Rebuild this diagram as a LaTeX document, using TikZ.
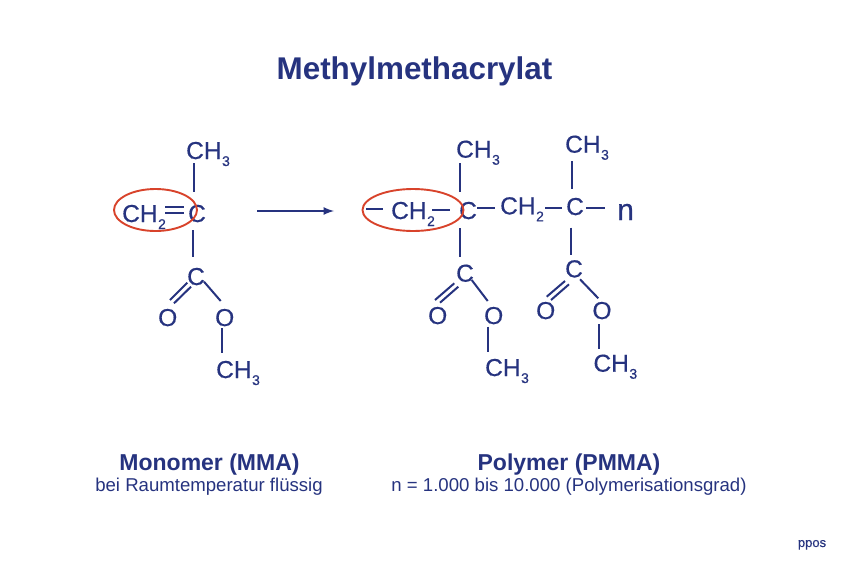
\documentclass[tikz,border=0pt]{standalone}
\usepackage{fontspec}
\setmainfont{Liberation Sans}
\newfontfamily\atomfont[FakeBold=0.5]{Liberation Sans}
\usepackage{tikz}
\usetikzlibrary{arrows,shapes.geometric}
\definecolor{navy}{HTML}{26337F}
\definecolor{ringred}{HTML}{D8432B}
\newcommand{\lowsub}[1]{\smash{\raisebox{-7pt}{\hspace{0.5pt}\fontsize{14}{14}\selectfont #1}}}
\tikzset{
    atom/.style={anchor=base west, inner sep=0pt, text=navy, font=\atomfont\fontsize{24.5}{24.5}\selectfont},
    bond/.style={draw=navy, line width=2pt},
    ring/.style={ellipse, draw=ringred, line width=1.9pt, inner sep=0pt},
    heading/.style={anchor=base, inner sep=0pt, text=navy, font=\fontsize{23}{23}\selectfont\bfseries},
    caption/.style={anchor=base, inner sep=0pt, text=navy, font=\fontsize{18.6}{18.6}\selectfont},
}

\begin{document}
\begin{tikzpicture}[x=1pt, y=-1pt]
\useasboundingbox (0, 0) rectangle (842, 573);
\node[heading, font=\fontsize{31.4}{31.4}\selectfont\bfseries] (title) at (414.5, 79) {Methylmethacrylat};

\node[atom] (ch3a) at (186, 159) {CH\lowsub{3}};
\node[atom] (ca) at (188, 222) {C};
\node[atom] (ch2a) at (122, 222) {CH\lowsub{2}};
\node[atom] (cb) at (187, 285) {C};
\node[atom] (oa) at (158, 326) {O};
\node[atom] (ob) at (215, 326) {O};
\node[atom] (ch3b) at (216, 378) {CH\lowsub{3}};
\node[ring, minimum width=83pt, minimum height=42pt] (ringa) at (155.5, 210) {};

\draw[bond] ([shift={(7.7,4)}]ch3a.base west) -- ([shift={(5.7,-30)}]ca.base west);
\draw[bond] ([shift={(43,-15)}]ch2a.base west) -- ([shift={(-4,-15)}]ca.base west);
\draw[bond] ([shift={(43,-9)}]ch2a.base west) -- ([shift={(-4,-9)}]ca.base west);
\draw[bond] ([shift={(5.3,8)}]ca.base west) -- ([shift={(6.3,-28)}]cb.base west);
\draw[bond] ([shift={(0.3,-2.3)}]cb.base west) -- ([shift={(12,-26)}]oa.base west);
\draw[bond] ([shift={(4,1.7)}]cb.base west) -- ([shift={(16,-22.7)}]oa.base west);
\draw[bond] ([shift={(17,-3.3)}]cb.base west) -- ([shift={(5.7,-25)}]ob.base west);
\draw[bond] ([shift={(6.7,2)}]ob.base west) -- ([shift={(5.7,-25)}]ch3b.base west);

\coordinate (arrowstart) at (257, 211);
\coordinate (arrowend) at (334, 211);
\draw[bond, line width=2.5pt, -latex] (arrowstart) -- (arrowend);

\node[atom] (ch3c) at (456, 157.7) {CH\lowsub{3}};
\node[atom] (cc) at (459, 219) {C};
\node[atom] (ch2b) at (391, 219) {CH\lowsub{2}};
\node[atom] (ch2c) at (500, 214.3) {CH\lowsub{2}};
\node[atom] (cd) at (566, 215) {C};
\node[atom, font=\atomfont\fontsize{30}{30}\selectfont] (n) at (617, 220) {n};
\node[atom] (ch3d) at (565, 152.7) {CH\lowsub{3}};
\node[atom] (ce) at (456, 281.7) {C};
\node[atom] (oc) at (428, 324) {O};
\node[atom] (od) at (484, 324) {O};
\node[atom] (ch3e) at (485, 376) {CH\lowsub{3}};
\node[atom] (cf) at (565, 277.3) {C};
\node[atom] (oe) at (536, 319) {O};
\node[atom] (op) at (592.3, 319) {O};
\node[atom] (ch3f) at (593.3, 371.7) {CH\lowsub{3}};
\node[ring, minimum width=101pt, minimum height=42pt] (ringb) at (413, 210) {};
\coordinate (openend) at (366, 209);

\draw[bond] (openend) -- ([shift={(-8,-10)}]ch2b.base west);
\draw[bond] ([shift={(41,-9)}]ch2b.base west) -- ([shift={(-9,-9)}]cc.base west);
\draw[bond] ([shift={(18,-11)}]cc.base west) -- ([shift={(-5,-6.3)}]ch2c.base west);
\draw[bond] ([shift={(45,-6.3)}]ch2c.base west) -- ([shift={(-4,-7)}]cd.base west);
\draw[bond] ([shift={(20,-7)}]cd.base west) -- ([shift={(-12,-12)}]n.base west);
\draw[bond] ([shift={(4,5.3)}]ch3c.base west) -- ([shift={(1,-27)}]cc.base west);
\draw[bond] ([shift={(6.7,8.3)}]ch3d.base west) -- ([shift={(5.7,-26)}]cd.base west);
\draw[bond] ([shift={(1.3,9)}]cc.base west) -- ([shift={(4.3,-24.7)}]ce.base west);
\draw[bond] ([shift={(-1.7,1.6)}]ce.base west) -- ([shift={(7,-24)}]oc.base west);
\draw[bond] ([shift={(2.3,5)}]ce.base west) -- ([shift={(12,-21.3)}]oc.base west);
\draw[bond] ([shift={(15.7,-1.7)}]ce.base west) -- ([shift={(3.7,-23)}]od.base west);
\draw[bond] ([shift={(4.3,2.7)}]od.base west) -- ([shift={(3.3,-24.3)}]ch3e.base west);
\draw[bond] ([shift={(5.3,12.7)}]cd.base west) -- ([shift={(6.3,-22.3)}]cf.base west);
\draw[bond] ([shift={(0,3.7)}]cf.base west) -- ([shift={(10.7,-22.3)}]oe.base west);
\draw[bond] ([shift={(4,7)}]cf.base west) -- ([shift={(15,-19)}]oe.base west);
\draw[bond] ([shift={(15,2)}]cf.base west) -- ([shift={(6,-20.7)}]op.base west);
\draw[bond] ([shift={(7,5)}]op.base west) -- ([shift={(6,-22.7)}]ch3f.base west);

\node[heading] (monomer) at (209.5, 470) {Monomer (MMA)};
\node[caption] (monomertext) at (209, 491.5) {bei Raumtemperatur flüssig};
\node[heading] (polymer) at (569, 470) {Polymer (PMMA)};
\node[caption] (polymertext) at (569, 491.5) {n = 1.000 bis 10.000 (Polymerisationsgrad)};
\node[caption, font=\atomfont\fontsize{13}{13}\selectfont] (ppos) at (812, 547) {ppos};
\end{tikzpicture}
\end{document}
